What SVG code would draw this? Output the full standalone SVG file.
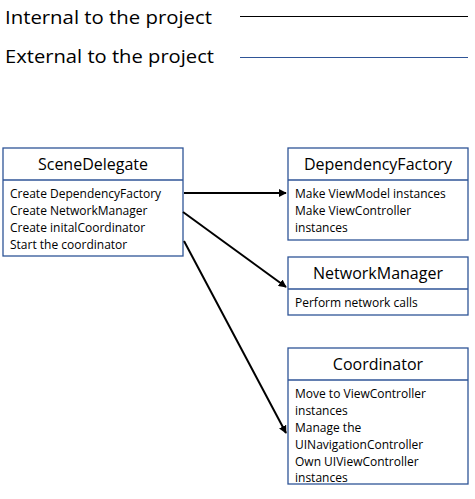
<svg xmlns="http://www.w3.org/2000/svg" width="475" height="499" viewBox="0 0 475 499">
<style>
.legend{font-family:"Open Sans","Liberation Sans",sans-serif;font-size:19px;fill:#000}
.title{font-family:"Open Sans","Liberation Sans",sans-serif;font-size:16px;fill:#000;text-anchor:middle}
.body{font-family:"Open Sans","Liberation Sans",sans-serif;font-size:12px;fill:#000}
.box{fill:#fff;stroke:#2F5597;stroke-width:1.3}
.conn{stroke:#000;stroke-width:2;fill:none}
</style>
<defs>
<marker id="ah" viewBox="0 0 10 10" refX="9" refY="5" markerWidth="4" markerHeight="4" orient="auto" markerUnits="strokeWidth">
<path d="M0,0 L10,5 L0,10 z" fill="#000"/>
</marker>
</defs>
<rect width="475" height="499" fill="#fff"/>
<g id="legend">
<text class="legend" x="5" y="24" textLength="207" lengthAdjust="spacingAndGlyphs">Internal to the project</text>
<line x1="240" y1="16.5" x2="468" y2="16.5" stroke="#000" stroke-width="1"/>
<text class="legend" x="5" y="63" textLength="209" lengthAdjust="spacingAndGlyphs">External to the project</text>
<line x1="240" y1="57.5" x2="468" y2="57.5" stroke="#2F5597" stroke-width="1"/>
</g>
<g id="SceneDelegate">
<rect class="box" x="3" y="148" width="180" height="108"/>
<line class="box" x1="3" y1="180" x2="183" y2="180"/>
<text class="title" x="93" y="170">SceneDelegate</text>
<text class="body" x="10" y="198">Create DependencyFactory</text>
<text class="body" x="10" y="215">Create NetworkManager</text>
<text class="body" x="10" y="232">Create initalCoordinator</text>
<text class="body" x="10" y="249">Start the coordinator</text>
</g>
<g id="DependencyFactory">
<rect class="box" x="288" y="148" width="180" height="92"/>
<line class="box" x1="288" y1="180" x2="468" y2="180"/>
<text class="title" x="378" y="170">DependencyFactory</text>
<text class="body" x="295" y="198">Make ViewModel instances</text>
<text class="body" x="295" y="215">Make ViewController</text>
<text class="body" x="295" y="232">instances</text>
</g>
<g id="NetworkManager">
<rect class="box" x="288" y="257" width="180" height="58"/>
<line class="box" x1="288" y1="289" x2="468" y2="289"/>
<text class="title" x="378" y="279">NetworkManager</text>
<text class="body" x="295" y="307">Perform network calls</text>
</g>
<g id="Coordinator">
<rect class="box" x="288" y="348" width="180" height="136"/>
<line class="box" x1="288" y1="380" x2="468" y2="380"/>
<text class="title" x="378" y="370">Coordinator</text>
<text class="body" x="295" y="398">Move to ViewController</text>
<text class="body" x="295" y="415">instances</text>
<text class="body" x="295" y="432">Manage the</text>
<text class="body" x="295" y="449">UINavigationController</text>
<text class="body" x="295" y="466">Own UIViewController</text>
<text class="body" x="295" y="482">instances</text>
</g>
<g id="connectors">
<line class="conn" x1="184" y1="193" x2="286" y2="193" marker-end="url(#ah)"/>
<line class="conn" x1="183" y1="212" x2="286" y2="287" marker-end="url(#ah)"/>
<line class="conn" x1="184" y1="241" x2="286" y2="433" marker-end="url(#ah)"/>
</g>
</svg>
